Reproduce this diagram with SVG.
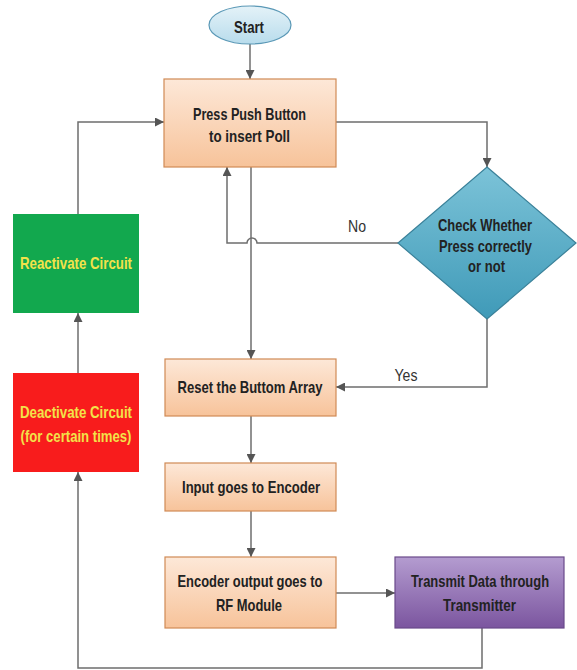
<svg xmlns="http://www.w3.org/2000/svg" width="577" height="670" viewBox="0 0 577 670">
<defs>
<linearGradient id="gOr" x1="0" y1="0" x2="0" y2="1"><stop offset="0" stop-color="#fde8d8"/><stop offset="1" stop-color="#f7c39a"/></linearGradient>
<linearGradient id="gDi" x1="0" y1="0" x2="0" y2="1"><stop offset="0" stop-color="#7cc3d8"/><stop offset="1" stop-color="#3f9ab8"/></linearGradient>
<linearGradient id="gPu" x1="0" y1="0" x2="0" y2="1"><stop offset="0" stop-color="#b49cd0"/><stop offset="1" stop-color="#7b559f"/></linearGradient>
<linearGradient id="gSt" x1="0" y1="0" x2="0" y2="1"><stop offset="0" stop-color="#e4f2f8"/><stop offset="1" stop-color="#b8dcec"/></linearGradient>
<marker id="ah" viewBox="0 0 10 10" refX="10" refY="5" markerWidth="9" markerHeight="9" markerUnits="userSpaceOnUse" orient="auto"><path d="M0,0 L10,5 L0,10 z" fill="#555"/></marker>
</defs>
<style>
.t{font-family:"Liberation Sans",Arial,sans-serif;font-weight:bold;font-size:17px;fill:#222;text-anchor:middle}
.y{fill:#f2e24a}
.l{font-family:"Liberation Sans",Arial,sans-serif;font-size:16px;fill:#333;text-anchor:middle}
.c{fill:none;stroke:#6e6e6e;stroke-width:1.5}
.box{fill:url(#gOr);stroke:#d08a55;stroke-width:1.2}
</style>
<rect width="577" height="670" fill="#ffffff"/>
<g id="connectors">
<path class="c" d="M250,44 V79" marker-end="url(#ah)"/>
<path class="c" d="M336,122 H487 V167" marker-end="url(#ah)"/>
<path class="c" d="M398,243 H257 A5,5 0 0 0 247,243 H227 V167" marker-end="url(#ah)"/>
<path class="c" d="M251,167 V359" marker-end="url(#ah)"/>
<path class="c" d="M487,319 V387 H336" marker-end="url(#ah)"/>
<path class="c" d="M251,416 V463" marker-end="url(#ah)"/>
<path class="c" d="M251,511 V557" marker-end="url(#ah)"/>
<path class="c" d="M336,593 H395" marker-end="url(#ah)"/>
<path class="c" d="M482,628 V668 H78 V472" marker-end="url(#ah)"/>
<path class="c" d="M78,373 V313" marker-end="url(#ah)"/>
<path class="c" d="M78,214 V122 H164" marker-end="url(#ah)"/>
<text class="l" x="357" y="232" textLength="18" lengthAdjust="spacingAndGlyphs">No</text>
<text class="l" x="406" y="381" textLength="23" lengthAdjust="spacingAndGlyphs">Yes</text>
</g>
<g id="start">
<ellipse cx="250" cy="25" rx="41" ry="19" fill="url(#gSt)" stroke="#5a98b6" stroke-width="1.2"/>
<text class="t" x="249" y="33" textLength="30" lengthAdjust="spacingAndGlyphs">Start</text>
</g>
<g id="press">
<rect class="box" x="164" y="79" width="172" height="88"/>
<text class="t" x="249.5" y="120" textLength="113" lengthAdjust="spacingAndGlyphs">Press Push Button</text>
<text class="t" x="249.5" y="142" textLength="81" lengthAdjust="spacingAndGlyphs">to insert Poll</text>
</g>
<g id="check">
<polygon points="487,167 576,243 487,319 398,243" fill="url(#gDi)" stroke="#3a8199" stroke-width="1.2"/>
<text class="t" x="485" y="231" textLength="94" lengthAdjust="spacingAndGlyphs">Check Whether</text>
<text class="t" x="485.5" y="252" textLength="93" lengthAdjust="spacingAndGlyphs">Press correctly</text>
<text class="t" x="486.5" y="272" textLength="37" lengthAdjust="spacingAndGlyphs">or not</text>
</g>
<g id="reactivate">
<rect x="13" y="214" width="126" height="99" fill="#12a84e"/>
<text class="t y" x="76" y="269" textLength="112" lengthAdjust="spacingAndGlyphs">Reactivate Circuit</text>
</g>
<g id="deactivate">
<rect x="13" y="373" width="126" height="99" fill="#f81c1c"/>
<text class="t y" x="76" y="418" textLength="112" lengthAdjust="spacingAndGlyphs">Deactivate Circuit</text>
<text class="t y" x="76" y="442" textLength="111" lengthAdjust="spacingAndGlyphs">(for certain times)</text>
</g>
<g id="reset">
<rect class="box" x="165" y="359" width="171" height="57"/>
<text class="t" x="250" y="393" textLength="145" lengthAdjust="spacingAndGlyphs">Reset the Buttom Array</text>
</g>
<g id="input">
<rect class="box" x="165" y="463" width="171" height="48"/>
<text class="t" x="251" y="493" textLength="138" lengthAdjust="spacingAndGlyphs">Input goes to Encoder</text>
</g>
<g id="encoder">
<rect class="box" x="165" y="557" width="171" height="71"/>
<text class="t" x="250" y="587" textLength="145" lengthAdjust="spacingAndGlyphs">Encoder output goes to</text>
<text class="t" x="249" y="611" textLength="66" lengthAdjust="spacingAndGlyphs">RF Module</text>
</g>
<g id="transmit">
<rect x="395" y="557" width="169" height="71" fill="url(#gPu)" stroke="#6a4a8a" stroke-width="1.2"/>
<text class="t" transform="translate(480,587) scale(0.762,1)" x="0" y="0">Transmit Data through</text>
<text class="t" x="479.5" y="611" textLength="73" lengthAdjust="spacingAndGlyphs">Transmitter</text>
</g>
</svg>
